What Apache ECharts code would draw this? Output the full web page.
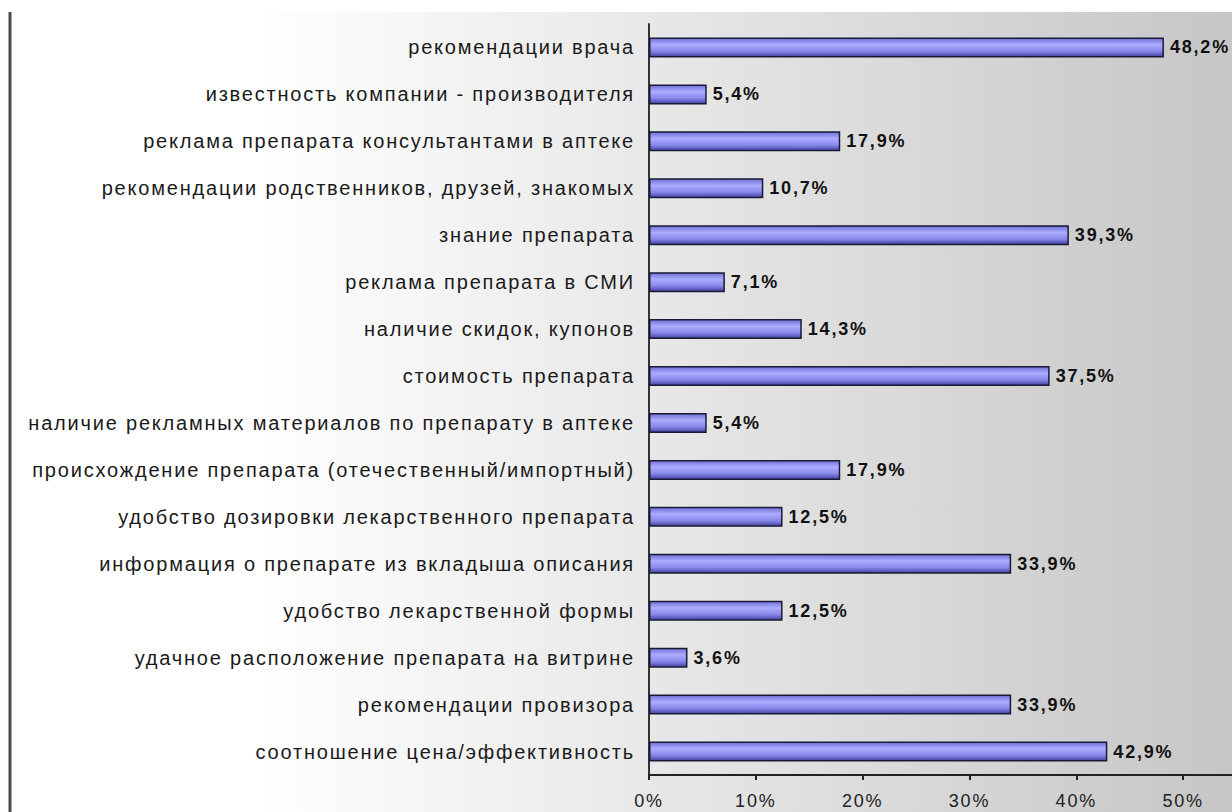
<!DOCTYPE html>
<html>
<head>
<meta charset="utf-8">
<script src="https://cdn.jsdelivr.net/npm/echarts@6/dist/echarts.min.js"></script>
<style>
  html, body { margin: 0; padding: 0; background: #fff; }
  #main { width: 1232px; height: 812px; }
  /* шрифт в оригинале разрежен */
  #main svg text { letter-spacing: 1.8px; }
</style>
</head>
<body>
<div id="main"></div>
<script>
// данные
var categories = [
    'рекомендации врача',
    'известность компании - производителя',
    'реклама препарата консультантами в аптеке',
    'рекомендации родственников, друзей, знакомых',
    'знание препарата',
    'реклама препарата в СМИ',
    'наличие скидок, купонов',
    'стоимость препарата',
    'наличие рекламных материалов по препарату в аптеке',
    'происхождение препарата (отечественный/импортный)',
    'удобство дозировки лекарственного препарата',
    'информация о препарате из вкладыша описания',
    'удобство лекарственной формы',
    'удачное расположение препарата на витрине',
    'рекомендации провизора',
    'соотношение цена/эффективность'
];
var values = [48.2, 5.4, 17.9, 10.7, 39.3, 7.1, 14.3, 37.5, 5.4, 17.9, 12.5, 33.9, 12.5, 3.6, 33.9, 42.9];
var tickMax = 60;
var tickStep = 10;

var myChart = echarts.init(document.getElementById('main'), null, { renderer: 'svg' });

var option = {
    animation: false,
    backgroundColor: '#ffffff',
    graphic: [
        {
            type: 'rect',
            z: -10,
            silent: true,
            shape: { x: 12, y: 12, width: 1220, height: 800 },
            style: {
                fill: new echarts.graphic.LinearGradient(0, 0, 1, 0, [
                    { offset: 0, color: '#ffffff' },
                    { offset: 0.2, color: '#ffffff' },
                    { offset: 1, color: '#c6c6c6' }
                ])
            }
        },
        {
            type: 'line',
            silent: true,
            shape: { x1: 10, y1: 12, x2: 10, y2: 812 },
            style: { stroke: '#4a4a4a', lineWidth: 3 }
        }
    ],
    grid: {
        left: 649,
        width: 641,
        top: 24,
        bottom: 37,
        outerBoundsMode: 'none',
        containLabel: false
    },
    xAxis: {
        type: 'value',
        min: 0,
        max: tickMax,
        interval: tickStep,
        splitLine: { show: false },
        axisLine: { show: true, lineStyle: { color: '#222', width: 2 } },
        axisTick: { show: true, length: 5, lineStyle: { color: '#222', width: 2 } },
        axisLabel: {
            formatter: '{value}%',
            showMaxLabel: false,
            margin: 17,
            fontFamily: 'Liberation Sans',
            fontSize: 18,
            color: '#222'
        }
    },
    yAxis: {
        type: 'category',
        inverse: true,
        data: categories,
        axisLine: { show: true, lineStyle: { color: '#333', width: 2 } },
        axisTick: { show: false },
        axisLabel: {
            margin: 14,
            fontFamily: 'Liberation Sans',
            fontSize: 20,
            color: '#1a1a1a'
        }
    },
    series: [
        {
            type: 'bar',
            data: values,
            barWidth: 20,
            itemStyle: {
                color: new echarts.graphic.LinearGradient(0, 0, 0, 1, [
                    { offset: 0, color: '#7070d6' },
                    { offset: 0.35, color: '#acacff' },
                    { offset: 0.7, color: '#8888ea' },
                    { offset: 1, color: '#4242a0' }
                ]),
                borderColor: '#1a1a36',
                borderWidth: 1.5
            },
            label: {
                show: true,
                position: 'right',
                distance: 6,
                fontFamily: 'Liberation Sans',
                fontWeight: 'bold',
                fontSize: 18,
                color: '#111',
                formatter: function (p) {
                    return p.value.toFixed(1).replace('.', ',') + '%';
                }
            }
        }
    ]
};

myChart.setOption(option);
</script>
</body>
</html>
